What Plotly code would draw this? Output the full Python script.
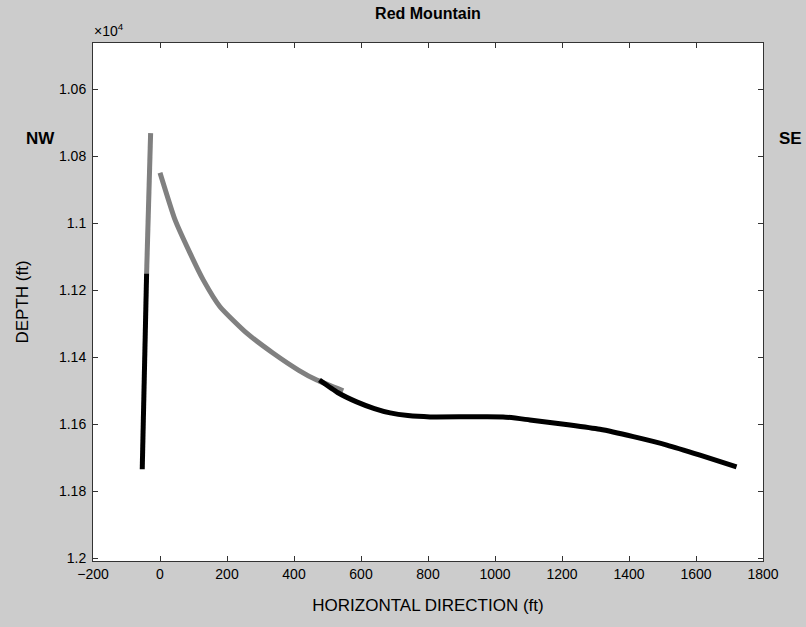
import plotly.graph_objects as go

# ---- data ----
gray_vert_x = [-28, -30, -34, -40]
gray_vert_depth = [10731, 10831, 10930, 11150]

black_vert_x = [-40, -44, -47, -50, -53]
black_vert_depth = [11150, 11300, 11450, 11600, 11734]

gray_curve_x = [0, 45, 90, 129, 179, 259, 338, 413, 468, 547]
gray_curve_depth = [10849, 10990, 11090, 11169, 11249, 11328, 11388, 11438, 11468, 11500]

black_curve_x = [476, 530, 587, 640, 687, 740, 806, 1024, 1104, 1224, 1313, 1413, 1513, 1612, 1721]
black_curve_depth = [11468, 11505, 11533, 11553, 11566, 11574, 11578, 11578, 11587, 11602, 11615, 11637, 11662, 11692, 11727]

y_tick_vals = [10600, 10800, 11000, 11200, 11400, 11600, 11800, 12000]
y_tick_text = ["1.06", "1.08", "1.1", "1.12", "1.14", "1.16", "1.18", "1.2"]
x_tick_vals = [-200, 0, 200, 400, 600, 800, 1000, 1200, 1400, 1600, 1800]

GRAY = "#808080"
BLACK = "#000000"
FONT = "Liberation Sans, Arial, Helvetica, sans-serif"

fig = go.Figure()
for xs, ys, col, shp in [
    (gray_vert_x, gray_vert_depth, GRAY, "linear"),
    (black_vert_x, black_vert_depth, BLACK, "linear"),
    (gray_curve_x, gray_curve_depth, GRAY, "spline"),
    (black_curve_x, black_curve_depth, BLACK, "spline"),
]:
    fig.add_trace(go.Scatter(x=xs, y=ys, mode="lines",
                             line=dict(color=col, width=5, shape=shp, smoothing=0.5),
                             showlegend=False, hoverinfo="skip"))

axis_common = dict(showgrid=False, zeroline=False, showline=True, linecolor="#333333",
                   linewidth=1, mirror="ticks", ticks="inside", ticklen=5,
                   tickcolor="#333333", tickfont=dict(family=FONT, size=14, color="#000000"))

fig.update_layout(
    width=806, height=627,
    margin=dict(l=93, r=43, t=43, b=66),
    paper_bgcolor="#cccccc", plot_bgcolor="#ffffff",
    font=dict(family=FONT, color="#000000"),
    title=dict(text="<b>Red Mountain</b>", x=(93 + 763) / 2 / 806, xanchor="center",
               xref="container", yref="container", y=1 - 13 / 627, yanchor="middle",
               font=dict(family=FONT, size=16, color="#000000")),
    xaxis=dict(range=[-200, 1800], tickvals=x_tick_vals,
               title=dict(text="HORIZONTAL DIRECTION (ft)", standoff=18,
                          font=dict(family=FONT, size=17, color="#000000")),
               **axis_common),
    yaxis=dict(range=[12008, 10462], tickvals=y_tick_vals, ticktext=y_tick_text,
               ticklabelstandoff=3,
               title=dict(text="DEPTH (ft)", standoff=26,
                          font=dict(family=FONT, size=17, color="#000000")),
               **axis_common),
    annotations=[
        dict(text="×10<sup>4</sup>", xref="paper", yref="paper", x=-0.002, y=(561 - 30) / 518,
             xanchor="left", yanchor="middle", showarrow=False,
             font=dict(family=FONT, size=14, color="#000000")),
        dict(text="<b>NW</b>", xref="paper", yref="paper", x=(40 - 93) / 670, y=(561 - 138) / 518,
             xanchor="center", yanchor="middle", showarrow=False,
             font=dict(family=FONT, size=17, color="#000000")),
        dict(text="<b>SE</b>", xref="paper", yref="paper", x=(790 - 93) / 670, y=(561 - 138) / 518,
             xanchor="center", yanchor="middle", showarrow=False,
             font=dict(family=FONT, size=17, color="#000000")),
    ],
)

fig.write_html("out.html")
